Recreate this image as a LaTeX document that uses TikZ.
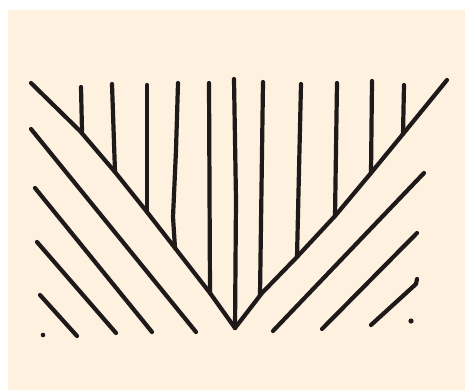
\documentclass[tikz,border=0pt]{standalone}
\usepackage{tikz}
\definecolor{paperbeige}{RGB}{254,241,223}
\definecolor{inkblack}{RGB}{30,26,26}
\tikzset{
  stroke/.style={draw=inkblack,line width=4.2pt,line cap=round,line join=round},
  inkdot/.style={fill=inkblack},
}
\begin{document}
\begin{tikzpicture}[x=1pt,y=-1pt]
  \useasboundingbox (0,0) rectangle (465,390);
  \fill[white] (0,0) rectangle (465,390);
  \fill[paperbeige] (8,10) rectangle (465,390);
  \coordinate (tip) at (235,328);
  \draw[stroke] (31,83) -- (80,131) -- (115,172) -- (147,212) -- (175,248) -- (210,293) -- (tip);
  \draw[stroke] (447,80) -- (403,134) -- (371,173) -- (335,216) -- (296,258) -- (262,293) -- (tip);
  \draw[stroke] (81,87) -- (82,131);
  \draw[stroke] (112,84) -- (115,172);
  \draw[stroke] (147,85) -- (147,212);
  \draw[stroke] (178,83) -- (176,150) -- (173,217) -- (175,248);
  \draw[stroke] (209,83) -- (210,293);
  \draw[stroke] (234,79) -- (236,200) -- (tip);
  \draw[stroke] (263,82) -- (260,295);
  \draw[stroke] (301,84) -- (297,257);
  \draw[stroke] (337,83) -- (335,216);
  \draw[stroke] (372,81) -- (371,173);
  \draw[stroke] (404,85) -- (403,134);
  \draw[stroke] (31,129) -- (196,332);
  \draw[stroke] (35,188) -- (152,332);
  \draw[stroke] (37,242) -- (116,333);
  \draw[stroke] (40,295) -- (77,336);
  \draw[stroke] (424,173) -- (273,331);
  \draw[stroke] (417,233) -- (322,329);
  \draw[stroke] (417,279) -- (416,284) -- (371,325);
  \fill[inkdot] (43,335) circle (2.3);
  \fill[inkdot] (411,321) circle (2.6);
\end{tikzpicture}
\end{document}
